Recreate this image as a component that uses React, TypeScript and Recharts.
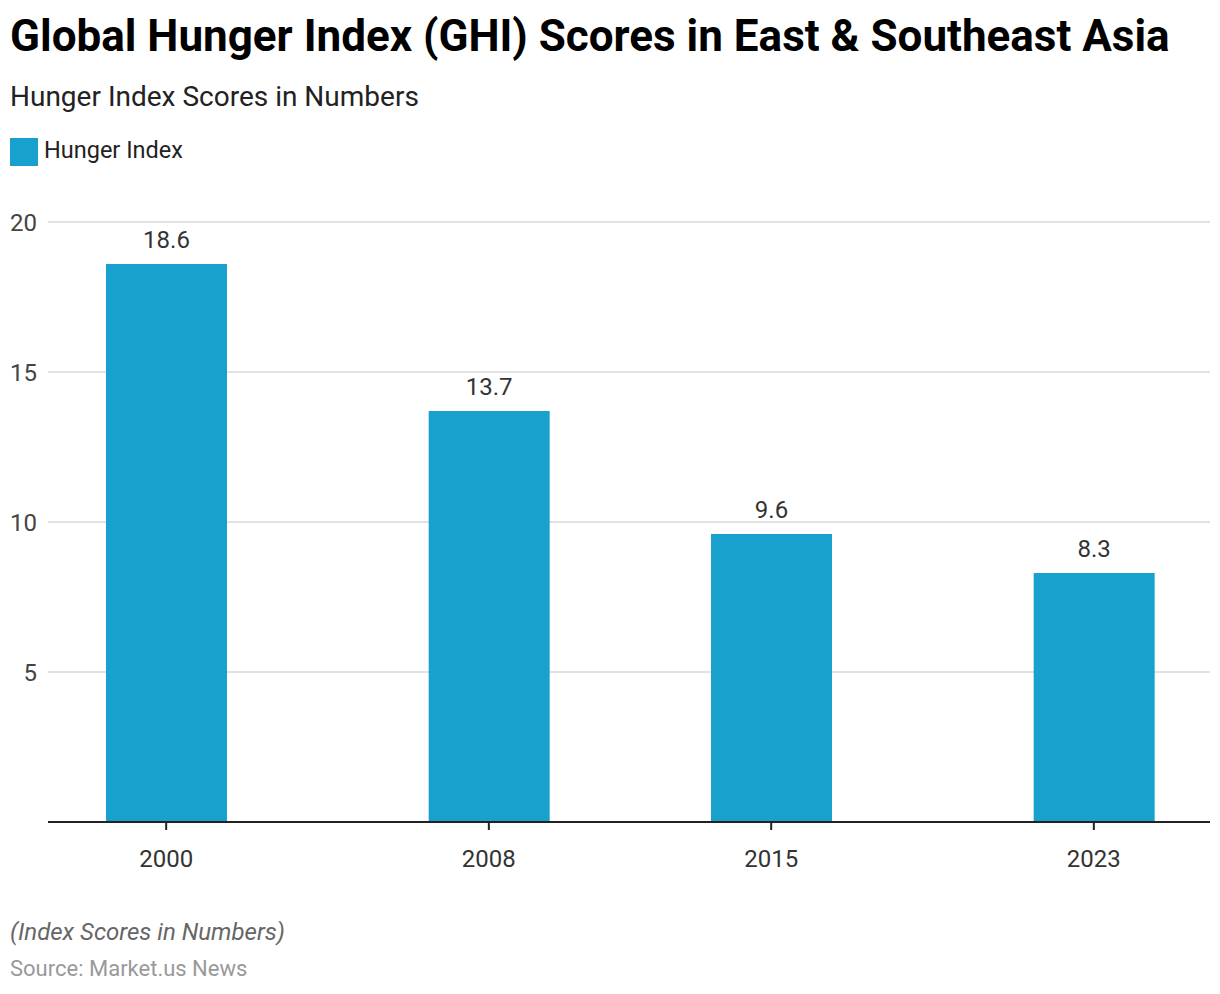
import React from "react";
import { BarChart, Bar, XAxis, YAxis, CartesianGrid, LabelList } from "recharts";

const years = [2000, 2008, 2015, 2023];
const hungerIndex = [18.6, 13.7, 9.6, 8.3];
const yTicks = [5, 10, 15, 20];

const data = years.map((year, i) => ({ year, value: hungerIndex[i] }));

const FONT = "Roboto, 'Noto Sans', sans-serif";
const BAR_COLOR = "#18a1cd";

export default function App() {
  return (
    <div
      style={{
        position: "absolute",
        left: 0,
        top: 0,
        width: 1220,
        height: 994,
        background: "#fff",
        fontFamily: FONT,
        overflow: "hidden",
      }}
    >
      <div style={{ position: "absolute", left: 10, top: 10, fontSize: 44, fontWeight: 700, color: "#000", lineHeight: "52px", whiteSpace: "nowrap" }}>
        Global Hunger Index (GHI) Scores in East &amp; Southeast Asia
      </div>
      <div style={{ position: "absolute", left: 10, top: 81, fontSize: 28, color: "#222", lineHeight: "32px", whiteSpace: "nowrap" }}>
        Hunger Index Scores in Numbers
      </div>
      <div style={{ position: "absolute", left: 10, top: 138, display: "flex", alignItems: "center" }}>
        <div style={{ width: 28, height: 28, background: BAR_COLOR }} />
        <div style={{ marginLeft: 6, fontSize: 23.5, color: "#222", lineHeight: "28px", whiteSpace: "nowrap", position: "relative", top: -2 }}>Hunger Index</div>
      </div>
      <div style={{ position: "absolute", left: 0, top: 0 }}>
        <BarChart
          width={1220}
          height={900}
          data={data}
          margin={{ top: 222, right: 10, bottom: 38, left: 0 }}
        >
          <CartesianGrid vertical={false} stroke="#d9d9d9" strokeWidth={1.5} />
          <XAxis
            dataKey="year"
            type="number"
            domain={[1997.07, 2025.88]}
            ticks={years}
            height={40}
            tickSize={8}
            tickMargin={20}
            stroke="#222"
            strokeWidth={2}
            tick={{ fontSize: 24, fill: "#333", fontFamily: FONT }}
            allowDataOverflow
          />
          <YAxis
            type="number"
            domain={[0, 20]}
            ticks={yTicks}
            width={48}
            axisLine={false}
            tickLine={false}
            tickSize={0}
            tickMargin={11}
            tick={{ fontSize: 24, fill: "#444", fontFamily: FONT }}
          />
          <Bar dataKey="value" fill={BAR_COLOR} barSize={121} isAnimationActive={false}>
            <LabelList dataKey="value" position="top" offset={16} style={{ fontSize: 24, fill: "#333", fontFamily: FONT }} />
          </Bar>
        </BarChart>
      </div>
      <div style={{ position: "absolute", left: 10, top: 917, fontSize: 24, fontStyle: "italic", color: "#666", lineHeight: "30px", whiteSpace: "nowrap" }}>
        (Index Scores in Numbers)
      </div>
      <div style={{ position: "absolute", left: 10, top: 955, fontSize: 22, color: "#999", lineHeight: "28px", whiteSpace: "nowrap" }}>
        Source: Market.us News
      </div>
    </div>
  );
}
